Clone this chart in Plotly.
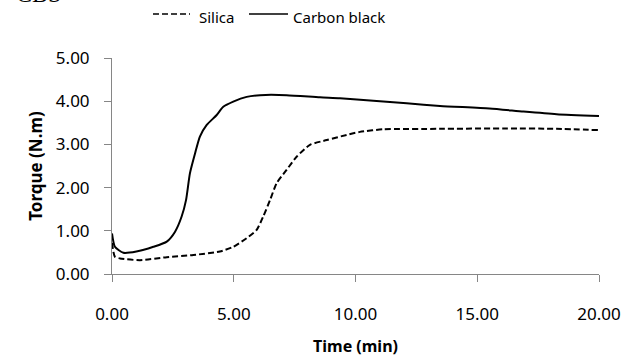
import plotly.graph_objects as go

# Carbon black (solid)
cb_t = [0.0, 0.12, 0.47, 1.0, 1.7, 2.25, 2.59, 2.86, 3.04, 3.2, 3.41, 3.61, 3.89, 4.3, 4.57, 4.98,
        5.53, 6.08, 7.17, 8.54, 9.36, 10.73, 12.1, 13.47, 15.5, 16.9, 18.26, 20.0]
cb_y = [0.94, 0.63, 0.49, 0.52, 0.63, 0.75, 0.98, 1.33, 1.71, 2.33, 2.79, 3.18, 3.45, 3.68, 3.87, 3.99,
        4.10, 4.14, 4.14, 4.09, 4.07, 4.01, 3.95, 3.89, 3.83, 3.76, 3.70, 3.66]

# Silica (dashed)
si_t = [0.0, 0.12, 0.33, 1.15, 2.25, 3.34, 4.43, 4.98, 5.53, 5.94, 6.21, 6.49, 6.76, 7.17, 7.59,
        8.13, 8.82, 9.64, 10.18, 11.14, 13.47, 16.2, 18.26, 20.0]
si_y = [0.72, 0.40, 0.36, 0.32, 0.39, 0.44, 0.52, 0.63, 0.83, 1.02, 1.33, 1.71, 2.10, 2.41, 2.72,
        2.99, 3.10, 3.22, 3.29, 3.35, 3.36, 3.37, 3.36, 3.33]

x_ticks = [0, 5, 10, 15, 20]
y_ticks = [0, 1, 2, 3, 4, 5]

series = [("Silica", si_t, si_y, "6px,3px"), ("Carbon black", cb_t, cb_y, "solid")]

L, R, T, B = 112, 35, 58, 84
W, H = 634, 358
pw, ph = W - L - R, H - T - B


def px_x(p):
    return (p - L) / pw


def px_y(p):
    return (H - B - p) / ph


fig = go.Figure()
for name, t, y, dash in series:
    fig.add_trace(go.Scatter(x=t, y=y, mode="lines", name=name, showlegend=False,
                             line=dict(color="black", width=2, dash=dash, shape="spline", smoothing=0.6)))

# manual legend (line samples + labels)
legend_pos = [(153, 190, 197), (249, 288, 291)]
for (name, _, _, dash), (x0, x1, xt) in zip(series, legend_pos):
    fig.add_shape(type="line", xref="paper", yref="paper", x0=px_x(x0), x1=px_x(x1),
                  y0=px_y(14), y1=px_y(14), line=dict(color="black", width=1.5, dash=dash))
    fig.add_annotation(text=name, xref="paper", yref="paper", x=px_x(xt), y=px_y(17),
                       xanchor="left", yanchor="middle", showarrow=False,
                       font=dict(size=15, color="black"))

font_family = "Noto Sans, DejaVu Sans, sans-serif"
fig.update_layout(
    width=W, height=H,
    margin=dict(l=L, r=R, t=T, b=B, autoexpand=False),
    paper_bgcolor="white", plot_bgcolor="white",
    font=dict(family=font_family, color="black", size=16),
    showlegend=False,
    xaxis=dict(range=[0, 20], tickvals=x_ticks, ticktext=[f"{v:.2f}" for v in x_ticks],
               showgrid=False, zeroline=False, showline=True, linecolor="#868686", linewidth=1,
               ticks="outside", ticklen=7, tickcolor="#868686", tickfont=dict(size=17),
               ticklabelstandoff=18,
               title=dict(text="<b>Time (min)</b>", font=dict(size=16), standoff=16)),
    yaxis=dict(range=[0, 5], tickvals=y_ticks, ticktext=[f"{v:.2f}" for v in y_ticks],
               showgrid=False, zeroline=False, showline=True, linecolor="#868686", linewidth=1,
               ticks="outside", ticklen=7, tickcolor="#868686", tickfont=dict(size=17),
               ticklabelstandoff=11,
               title=dict(text="<b>Torque (N.m)</b>", font=dict(size=17), standoff=8)),
)

fig.add_annotation(text="CBS", xref="paper", yref="paper", x=px_x(14), y=px_y(-6),
                   xanchor="left", yanchor="middle", showarrow=False,
                   font=dict(family="Liberation Serif, serif", size=24, color="black"))

fig.write_html("out.html")
